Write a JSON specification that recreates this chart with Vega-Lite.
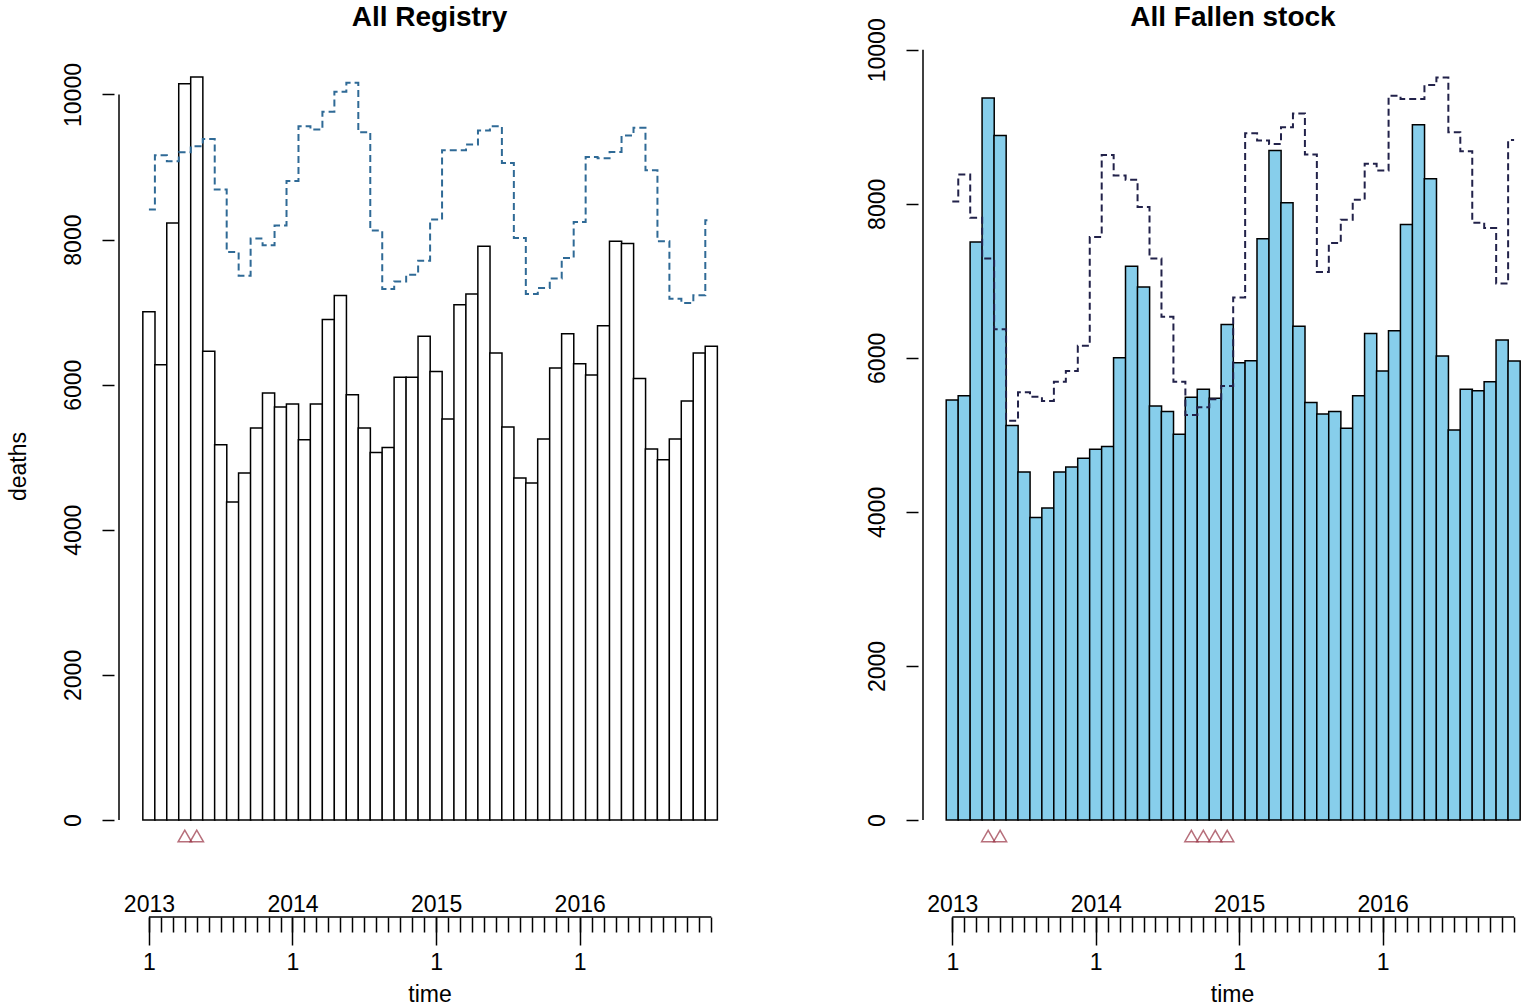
{
  "$schema": "https://vega.github.io/schema/vega-lite/v6.json",
  "padding": {"left": 7, "top": 3, "right": 0, "bottom": 0},
  "spacing": 120,
  "datasets": {
    "registry": [
      {"m": 1, "deaths": 7007, "threshold": 8414, "alarm": false},
      {"m": 2, "deaths": 6276, "threshold": 9163, "alarm": false},
      {"m": 3, "deaths": 8230, "threshold": 9080, "alarm": false},
      {"m": 4, "deaths": 10147, "threshold": 9204, "alarm": true},
      {"m": 5, "deaths": 10241, "threshold": 9287, "alarm": true},
      {"m": 6, "deaths": 6460, "threshold": 9388, "alarm": false},
      {"m": 7, "deaths": 5172, "threshold": 8690, "alarm": false},
      {"m": 8, "deaths": 4382, "threshold": 7830, "alarm": false},
      {"m": 9, "deaths": 4782, "threshold": 7503, "alarm": false},
      {"m": 10, "deaths": 5403, "threshold": 8014, "alarm": false},
      {"m": 11, "deaths": 5885, "threshold": 7922, "alarm": false},
      {"m": 12, "deaths": 5692, "threshold": 8193, "alarm": false},
      {"m": 13, "deaths": 5733, "threshold": 8809, "alarm": false},
      {"m": 14, "deaths": 5241, "threshold": 9563, "alarm": false},
      {"m": 15, "deaths": 5733, "threshold": 9517, "alarm": false},
      {"m": 16, "deaths": 6897, "threshold": 9761, "alarm": false},
      {"m": 17, "deaths": 7228, "threshold": 10037, "alarm": false},
      {"m": 18, "deaths": 5862, "threshold": 10161, "alarm": false},
      {"m": 19, "deaths": 5403, "threshold": 9480, "alarm": false},
      {"m": 20, "deaths": 5067, "threshold": 8124, "alarm": false},
      {"m": 21, "deaths": 5136, "threshold": 7320, "alarm": false},
      {"m": 22, "deaths": 6101, "threshold": 7421, "alarm": false},
      {"m": 23, "deaths": 6101, "threshold": 7517, "alarm": false},
      {"m": 24, "deaths": 6667, "threshold": 7710, "alarm": false},
      {"m": 25, "deaths": 6182, "threshold": 8276, "alarm": false},
      {"m": 26, "deaths": 5526, "threshold": 9232, "alarm": false},
      {"m": 27, "deaths": 7103, "threshold": 9232, "alarm": false},
      {"m": 28, "deaths": 7251, "threshold": 9310, "alarm": false},
      {"m": 29, "deaths": 7908, "threshold": 9503, "alarm": false},
      {"m": 30, "deaths": 6437, "threshold": 9563, "alarm": false},
      {"m": 31, "deaths": 5416, "threshold": 9057, "alarm": false},
      {"m": 32, "deaths": 4713, "threshold": 8023, "alarm": false},
      {"m": 33, "deaths": 4644, "threshold": 7251, "alarm": false},
      {"m": 34, "deaths": 5251, "threshold": 7333, "alarm": false},
      {"m": 35, "deaths": 6230, "threshold": 7462, "alarm": false},
      {"m": 36, "deaths": 6703, "threshold": 7747, "alarm": false},
      {"m": 37, "deaths": 6290, "threshold": 8243, "alarm": false},
      {"m": 38, "deaths": 6133, "threshold": 9140, "alarm": false},
      {"m": 39, "deaths": 6814, "threshold": 9122, "alarm": false},
      {"m": 40, "deaths": 7977, "threshold": 9209, "alarm": false},
      {"m": 41, "deaths": 7945, "threshold": 9434, "alarm": false},
      {"m": 42, "deaths": 6087, "threshold": 9540, "alarm": false},
      {"m": 43, "deaths": 5113, "threshold": 8956, "alarm": false},
      {"m": 44, "deaths": 4966, "threshold": 7977, "alarm": false},
      {"m": 45, "deaths": 5251, "threshold": 7186, "alarm": false},
      {"m": 46, "deaths": 5775, "threshold": 7126, "alarm": false},
      {"m": 47, "deaths": 6437, "threshold": 7232, "alarm": false},
      {"m": 48, "deaths": 6529, "threshold": 8267, "alarm": false}
    ],
    "fallen": [
      {"m": 1, "deaths": 5453, "threshold": 8031, "alarm": false},
      {"m": 2, "deaths": 5509, "threshold": 8381, "alarm": false},
      {"m": 3, "deaths": 7504, "threshold": 7820, "alarm": false},
      {"m": 4, "deaths": 9374, "threshold": 7289, "alarm": true},
      {"m": 5, "deaths": 8886, "threshold": 6373, "alarm": true},
      {"m": 6, "deaths": 5121, "threshold": 5185, "alarm": false},
      {"m": 7, "deaths": 4517, "threshold": 5553, "alarm": false},
      {"m": 8, "deaths": 3929, "threshold": 5496, "alarm": false},
      {"m": 9, "deaths": 4050, "threshold": 5440, "alarm": false},
      {"m": 10, "deaths": 4517, "threshold": 5690, "alarm": false},
      {"m": 11, "deaths": 4582, "threshold": 5829, "alarm": false},
      {"m": 12, "deaths": 4698, "threshold": 6157, "alarm": false},
      {"m": 13, "deaths": 4815, "threshold": 7569, "alarm": false},
      {"m": 14, "deaths": 4849, "threshold": 8635, "alarm": false},
      {"m": 15, "deaths": 6002, "threshold": 8368, "alarm": false},
      {"m": 16, "deaths": 7189, "threshold": 8312, "alarm": false},
      {"m": 17, "deaths": 6921, "threshold": 7958, "alarm": false},
      {"m": 18, "deaths": 5376, "threshold": 7289, "alarm": false},
      {"m": 19, "deaths": 5302, "threshold": 6533, "alarm": false},
      {"m": 20, "deaths": 5009, "threshold": 5690, "alarm": false},
      {"m": 21, "deaths": 5488, "threshold": 5259, "alarm": true},
      {"m": 22, "deaths": 5592, "threshold": 5358, "alarm": true},
      {"m": 23, "deaths": 5475, "threshold": 5462, "alarm": true},
      {"m": 24, "deaths": 6434, "threshold": 5635, "alarm": true},
      {"m": 25, "deaths": 5937, "threshold": 6784, "alarm": false},
      {"m": 26, "deaths": 5963, "threshold": 8916, "alarm": false},
      {"m": 27, "deaths": 7548, "threshold": 8821, "alarm": false},
      {"m": 28, "deaths": 8692, "threshold": 8778, "alarm": false},
      {"m": 29, "deaths": 8014, "threshold": 8994, "alarm": false},
      {"m": 30, "deaths": 6412, "threshold": 9172, "alarm": false},
      {"m": 31, "deaths": 5419, "threshold": 8640, "alarm": false},
      {"m": 32, "deaths": 5272, "threshold": 7116, "alarm": false},
      {"m": 33, "deaths": 5302, "threshold": 7491, "alarm": false},
      {"m": 34, "deaths": 5086, "threshold": 7794, "alarm": false},
      {"m": 35, "deaths": 5509, "threshold": 8053, "alarm": false},
      {"m": 36, "deaths": 6317, "threshold": 8519, "alarm": false},
      {"m": 37, "deaths": 5829, "threshold": 8433, "alarm": false},
      {"m": 38, "deaths": 6351, "threshold": 9404, "alarm": false},
      {"m": 39, "deaths": 7733, "threshold": 9361, "alarm": false},
      {"m": 40, "deaths": 9028, "threshold": 9361, "alarm": false},
      {"m": 41, "deaths": 8325, "threshold": 9543, "alarm": false},
      {"m": 42, "deaths": 6023, "threshold": 9641, "alarm": false},
      {"m": 43, "deaths": 5065, "threshold": 8929, "alarm": false},
      {"m": 44, "deaths": 5592, "threshold": 8683, "alarm": false},
      {"m": 45, "deaths": 5574, "threshold": 7755, "alarm": false},
      {"m": 46, "deaths": 5691, "threshold": 7686, "alarm": false},
      {"m": 47, "deaths": 6231, "threshold": 6965, "alarm": false},
      {"m": 48, "deaths": 5959, "threshold": 8829, "alarm": false}
    ]
  },
  "hconcat": [
    {
      "data": {"name": "registry"},
      "width": 631,
      "height": 771,
      "title": {"text": "All Registry", "offset": 17},
      "layer": [
        {
          "mark": {"type": "bar", "width": 12.16, "fill": "white", "stroke": "black", "strokeWidth": 1.5},
          "encoding": {
            "x": {
              "field": "m", "type": "quantitative",
              "scale": {"domain": [-1.5, 50.4], "nice": false, "zero": false},
              "axis": {
                "orient": "bottom", "offset": 97, "tickSize": 15, "labels": false,
                "values": [1,2,3,4,5,6,7,8,9,10,11,12,13,14,15,16,17,18,19,20,21,22,23,24,25,26,27,28,29,30,31,32,33,34,35,36,37,38,39,40,41,42,43,44,45,46,47,48],
                "title": "time", "titleBaseline": "alphabetic", "titlePadding": 69
              }
            },
            "y": {
              "field": "deaths", "type": "quantitative",
              "scale": {"domain": [0, 10627], "nice": false, "zero": true},
              "axis": {"title": "deaths", "values": [0, 2000, 4000, 6000, 8000, 10000], "format": "d", "titlePadding": 37, "titleY": 417}
            }
          }
        },
        {
          "mark": {"type": "line", "interpolate": "step", "stroke": "#2f6a96", "strokeWidth": 2, "strokeDash": [7, 4]},
          "encoding": {
            "x": {
              "field": "m", "type": "quantitative",
              "scale": {"domain": [-1.5, 50.4], "nice": false, "zero": false},
              "axis": {
                "orient": "bottom", "offset": 97, "tickSize": 28, "values": [1, 13, 25, 37],
                "labelExpr": "'1'", "labelBaseline": "alphabetic", "labelPadding": 24, "title": null
              }
            },
            "y": {
              "field": "threshold", "type": "quantitative",
              "scale": {"domain": [0, 10627], "nice": false, "zero": true},
              "axis": {"title": "deaths", "values": [0, 2000, 4000, 6000, 8000, 10000], "format": "d", "titlePadding": 37, "titleY": 417}
            }
          }
        },
        {
          "transform": [{"filter": "datum.alarm"}],
          "mark": {"type": "point", "shape": "triangle-up", "filled": false, "stroke": "#993344", "strokeWidth": 1.5, "size": 180},
          "encoding": {
            "x": {
              "field": "m", "type": "quantitative",
              "scale": {"domain": [-1.5, 50.4], "nice": false, "zero": false},
              "axis": {
                "orient": "bottom", "offset": 97, "ticks": false, "tickSize": 0, "values": [1, 13, 25, 37],
                "labelExpr": "'' + (2012 + ceil(datum.value / 12))", "labelBaseline": "alphabetic", "labelPadding": -6, "title": null
              }
            },
            "y": {
              "datum": -220, "type": "quantitative",
              "scale": {"domain": [0, 10627], "nice": false, "zero": true},
              "axis": {"title": "deaths", "values": [0, 2000, 4000, 6000, 8000, 10000], "format": "d", "titlePadding": 37, "titleY": 417}
            }
          }
        },
        {
          "data": {"values": [{}]},
          "mark": {"type": "rule", "stroke": "black", "strokeWidth": 1.5},
          "encoding": {
            "x": {"datum": 1, "type": "quantitative", "scale": {"domain": [-1.5, 50.4], "nice": false, "zero": false}, "axis": null},
            "x2": {"datum": 48},
            "y": {
              "datum": -1337, "type": "quantitative",
              "scale": {"domain": [0, 10627], "nice": false, "zero": true},
              "axis": {"title": "deaths", "values": [0, 2000, 4000, 6000, 8000, 10000], "format": "d", "titlePadding": 37, "titleY": 417}
            }
          }
        },
        {
          "data": {"values": [{}]},
          "mark": {"type": "rule", "stroke": "black", "strokeWidth": 1.5},
          "encoding": {
            "x": {"datum": -1.5, "type": "quantitative", "scale": {"domain": [-1.5, 50.4], "nice": false, "zero": false}, "axis": null},
            "y": {
              "datum": 0, "type": "quantitative",
              "scale": {"domain": [0, 10627], "nice": false, "zero": true},
              "axis": {"title": "deaths", "values": [0, 2000, 4000, 6000, 8000, 10000], "format": "d", "titlePadding": 37, "titleY": 417}
            },
            "y2": {"datum": 10000}
          }
        }
      ],
      "resolve": {"axis": {"x": "independent"}}
    },
    {
      "data": {"name": "fallen"},
      "width": 614,
      "height": 771,
      "title": {"text": "All Fallen stock", "offset": -14, "dx": 8},
      "layer": [
        {
          "mark": {"type": "bar", "width": 12.15, "fill": "#87ceeb", "stroke": "black", "strokeWidth": 1.5},
          "encoding": {
            "x": {
              "field": "m", "type": "quantitative",
              "scale": {"domain": [-1.45, 49.08], "nice": false, "zero": false},
              "axis": {
                "orient": "bottom", "offset": 97, "tickSize": 15, "labels": false,
                "values": [1,2,3,4,5,6,7,8,9,10,11,12,13,14,15,16,17,18,19,20,21,22,23,24,25,26,27,28,29,30,31,32,33,34,35,36,37,38,39,40,41,42,43,44,45,46,47,48],
                "title": "time", "titleBaseline": "alphabetic", "titlePadding": 69, "titleX": 314
              }
            },
            "y": {
              "field": "deaths", "type": "quantitative",
              "scale": {"domain": [0, 10010], "nice": false, "zero": true},
              "axis": {"title": null, "values": [0, 2000, 4000, 6000, 8000, 10000], "format": "d"}
            }
          }
        },
        {
          "mark": {"type": "line", "interpolate": "step", "stroke": "#22224a", "strokeWidth": 2, "strokeDash": [7, 4]},
          "encoding": {
            "x": {
              "field": "m", "type": "quantitative",
              "scale": {"domain": [-1.45, 49.08], "nice": false, "zero": false},
              "axis": {
                "orient": "bottom", "offset": 97, "tickSize": 28, "values": [1, 13, 25, 37],
                "labelExpr": "'1'", "labelBaseline": "alphabetic", "labelPadding": 24, "title": null
              }
            },
            "y": {
              "field": "threshold", "type": "quantitative",
              "scale": {"domain": [0, 10010], "nice": false, "zero": true},
              "axis": {"title": null, "values": [0, 2000, 4000, 6000, 8000, 10000], "format": "d"}
            }
          }
        },
        {
          "transform": [{"filter": "datum.alarm"}],
          "mark": {"type": "point", "shape": "triangle-up", "filled": false, "stroke": "#993344", "strokeWidth": 1.5, "size": 170},
          "encoding": {
            "x": {
              "field": "m", "type": "quantitative",
              "scale": {"domain": [-1.45, 49.08], "nice": false, "zero": false},
              "axis": {
                "orient": "bottom", "offset": 97, "ticks": false, "tickSize": 0, "values": [1, 13, 25, 37],
                "labelExpr": "'' + (2012 + ceil(datum.value / 12))", "labelBaseline": "alphabetic", "labelPadding": -6, "title": null
              }
            },
            "y": {
              "datum": -208, "type": "quantitative",
              "scale": {"domain": [0, 10010], "nice": false, "zero": true},
              "axis": {"title": null, "values": [0, 2000, 4000, 6000, 8000, 10000], "format": "d"}
            }
          }
        },
        {
          "data": {"values": [{}]},
          "mark": {"type": "rule", "stroke": "black", "strokeWidth": 1.5},
          "encoding": {
            "x": {"datum": 1, "type": "quantitative", "scale": {"domain": [-1.45, 49.08], "nice": false, "zero": false}, "axis": null},
            "x2": {"datum": 48},
            "y": {
              "datum": -1259, "type": "quantitative",
              "scale": {"domain": [0, 10010], "nice": false, "zero": true},
              "axis": {"title": null, "values": [0, 2000, 4000, 6000, 8000, 10000], "format": "d"}
            }
          }
        },
        {
          "data": {"values": [{}]},
          "mark": {"type": "rule", "stroke": "black", "strokeWidth": 1.5},
          "encoding": {
            "x": {"datum": -1.45, "type": "quantitative", "scale": {"domain": [-1.45, 49.08], "nice": false, "zero": false}, "axis": null},
            "y": {
              "datum": 0, "type": "quantitative",
              "scale": {"domain": [0, 10010], "nice": false, "zero": true},
              "axis": {"title": null, "values": [0, 2000, 4000, 6000, 8000, 10000], "format": "d"}
            },
            "y2": {"datum": 10000}
          }
        }
      ],
      "resolve": {"axis": {"x": "independent"}}
    }
  ],
  "config": {
    "font": "Liberation Sans",
    "view": {"stroke": null},
    "title": {"fontSize": 28, "fontWeight": "bold", "color": "black", "anchor": "middle", "frame": "group", "baseline": "alphabetic"},
    "axis": {
      "grid": false, "domain": false,
      "labelFont": "Liberation Sans", "labelFontSize": 23, "labelColor": "black",
      "titleFont": "Liberation Sans", "titleFontSize": 23, "titleFontWeight": "normal", "titleColor": "black",
      "tickColor": "black", "tickWidth": 1.5,
      "labelOverlap": false, "labelFlush": false
    },
    "axisY": {
      "tickSize": 12, "labelAngle": -90, "labelAlign": "center", "labelBaseline": "alphabetic",
      "labelPadding": 22, "titleBaseline": "alphabetic"
    }
  }
}
